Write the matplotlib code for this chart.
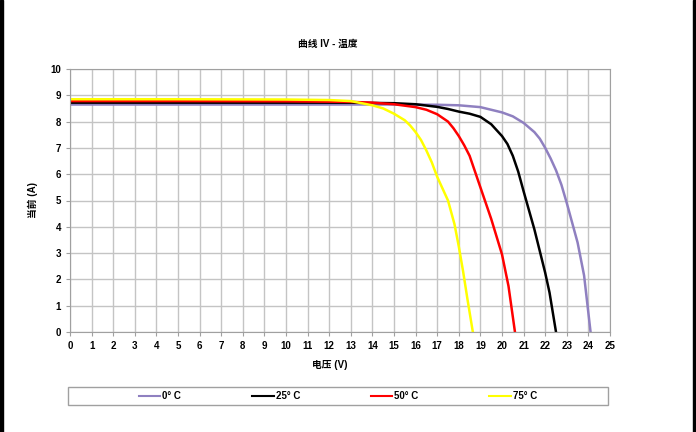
import matplotlib
matplotlib.use("Agg")
import matplotlib.pyplot as plt
from matplotlib.patches import Rectangle

plt.rcParams['font.family'] = ['Liberation Sans', 'Noto Sans CJK SC', 'DejaVu Sans']

# I-V curves, per temperature
v_0 = [0, 5, 10, 15, 17, 18, 19, 20, 20.5, 21, 21.5, 21.75, 22, 22.25, 22.5, 22.75, 23, 23.5, 23.8, 24.1]
i_0 = [8.65, 8.65, 8.65, 8.65, 8.64, 8.62, 8.55, 8.35, 8.2, 7.95, 7.6, 7.35, 7.0, 6.6, 6.15, 5.6, 4.9, 3.4, 2.15, 0]

v_25 = [0, 5, 10, 13, 15, 16, 17, 17.5, 18, 18.5, 19, 19.5, 20, 20.25, 20.5, 20.75, 21, 21.5, 22, 22.2, 22.5]
i_25 = [8.72, 8.72, 8.72, 8.72, 8.7, 8.66, 8.56, 8.48, 8.38, 8.3, 8.18, 7.9, 7.45, 7.15, 6.7, 6.1, 5.35, 3.9, 2.25, 1.5, 0]

v_50 = [0, 5, 10, 13, 14, 15, 16, 16.5, 17, 17.5, 17.75, 18, 18.25, 18.5, 19, 19.5, 20, 20.3, 20.6]
i_50 = [8.78, 8.78, 8.77, 8.75, 8.72, 8.66, 8.55, 8.45, 8.28, 8.0, 7.75, 7.45, 7.1, 6.7, 5.5, 4.3, 2.95, 1.75, 0]

v_75 = [0, 5, 10, 12, 13, 14, 14.5, 15, 15.5, 15.75, 16, 16.25, 16.5, 16.75, 17, 17.5, 17.8, 18, 18.2, 18.4, 18.65]
i_75 = [8.85, 8.85, 8.84, 8.82, 8.78, 8.62, 8.5, 8.3, 8.05, 7.85, 7.6, 7.3, 6.9, 6.45, 5.9, 5.0, 4.1, 3.25, 2.3, 1.25, 0]

labels = ["0° C", "25° C", "50° C", "75° C"]
colors = ["#8f80c0", "#000000", "#ff0000", "#ffff00"]

fig = plt.figure(figsize=(6.96, 4.32), dpi=100)
ax = fig.add_axes([70 / 696, 1 - 332 / 432, 540 / 696, 263 / 432])

for v, i, lab, c in zip([v_0, v_25, v_50, v_75], [i_0, i_25, i_50, i_75], labels, colors):
    ax.plot(v, i, color=c, lw=1.8, label=lab)

ax.set_xlim(0, 25)
ax.set_ylim(0, 10)
ax.set_xticks(range(0, 26))
ax.set_yticks(range(0, 11))
ax.grid(True, color="#c4c4c4", lw=1)
ax.set_axisbelow(True)
for s in ax.spines.values():
    s.set_color("#a0a0a0")
ax.tick_params(colors="#a0a0a0", labelcolor="black", labelsize=7, length=3)
for t in ax.get_xticklabels() + ax.get_yticklabels():
    t.set_fontweight("bold")

fig.text(328 / 696, 1 - 44 / 432, "曲线 IV - 温度", ha="center", va="center",
         fontsize=7, fontweight="bold")
fig.text(330 / 696, 1 - 365 / 432, "电压 (V)", ha="center", va="center",
         fontsize=7, fontweight="bold")
fig.text(33 / 696, 1 - 200 / 432, "当前 (A)", ha="center", va="center",
         fontsize=7, fontweight="bold", rotation=90)

# legend box
fig.patches.append(Rectangle((68 / 696, 1 - 405 / 432), 540 / 696, 18 / 432,
                             transform=fig.transFigure, fill=False,
                             edgecolor="#a0a0a0", lw=1))
leg = fig.legend(loc="center", bbox_to_anchor=(338 / 696, 1 - 396 / 432), ncol=4,
                 frameon=False, fontsize=7, handlelength=2.2, handletextpad=0.2,
                 columnspacing=7.3)
for t in leg.get_texts():
    t.set_fontweight("bold")
for h in leg.get_lines():
    h.set_linewidth(1.5)

# dark bars on the left and right edges
fig.patches.append(Rectangle((0, 0), 3 / 696, 1, transform=fig.transFigure,
                             color="black"))
fig.patches.append(Rectangle((693 / 696, 0), 3 / 696, 1, transform=fig.transFigure,
                             color="black"))

fig.savefig("out.png", dpi=100)
